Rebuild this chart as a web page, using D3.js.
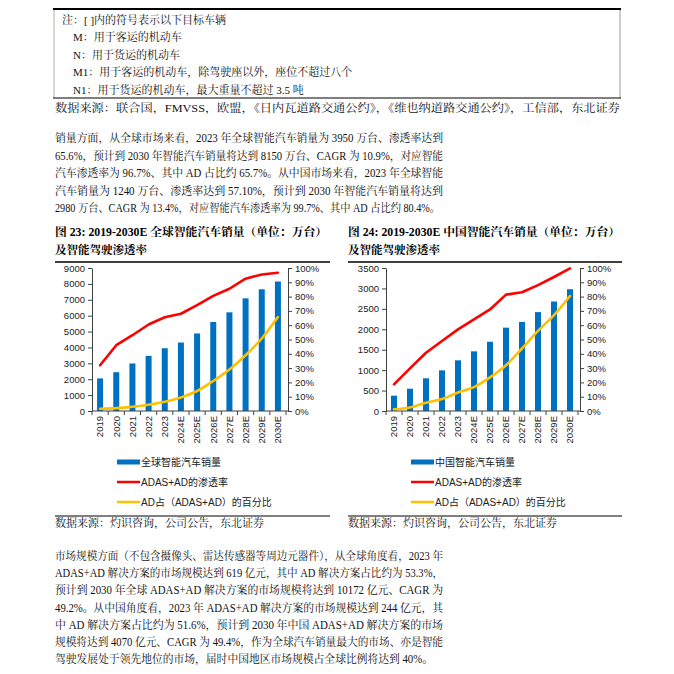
<!DOCTYPE html>
<html>
<head>
<meta charset="utf-8">
<script src="https://cdn.jsdelivr.net/npm/d3@7"></script>
<style>
  body { margin: 0; background: #fff; }
  svg { display: block; }
</style>
</head>
<body>
<div id="page"></div>
<script>
// categories and values
const years = ["2019", "2020", "2021", "2022", "2023", "2024E", "2025E", "2026E", "2027E", "2028E", "2029E", "2030E"];
const globalSales = [2050, 2440, 2990, 3470, 3950, 4310, 4880, 5600, 6210, 7090, 7660, 8150];
const globalPen = [32, 46, 53, 60.5, 65.6, 68, 74, 80.5, 85.5, 92.5, 95.5, 96.7];
const globalAd = [1.6, 2, 3, 4.4, 6.5, 9.5, 14, 21, 29, 39, 50.7, 65.7];
const chinaSales = [375, 545, 800, 995, 1240, 1460, 1695, 2040, 2180, 2420, 2680, 2980];
const chinaPen = [18.6, 29.8, 40.7, 49, 57.1, 64, 71, 81.4, 83, 88, 93.7, 99.7];
const chinaAd = [1.2, 2.5, 5.8, 8.4, 13, 16.7, 23.5, 32, 43.7, 56, 67, 80.4];

const noteRows = [
  "注：[ ]内的符号表示以下目标车辆",
  "M：用于客运的机动车",
  "N：用于货运的机动车",
  "M1：用于客运的机动车，除驾驶座以外，座位不超过八个",
  "N1：用于货运的机动车，最大重量不超过 3.5 吨"
];
const noteSource = "数据来源：联合国，FMVSS，欧盟，《日内瓦道路交通公约》，《维也纳道路交通公约》，工信部，东北证券";
const para1 = [
  "销量方面，从全球市场来看，2023 年全球智能汽车销量为 3950 万台、渗透率达到",
  "65.6%，预计到 2030 年智能汽车销量将达到 8150 万台、CAGR 为 10.9%，对应智能",
  "汽车渗透率为 96.7%、其中 AD 占比约 65.7%。从中国市场来看，2023 年全球智能",
  "汽车销量为 1240 万台、渗透率达到 57.10%，预计到 2030 年智能汽车销量将达到",
  "2980 万台、CAGR 为 13.4%，对应智能汽车渗透率为 99.7%、其中 AD 占比约 80.4%。"
];
const para2 = [
  "市场规模方面（不包含摄像头、雷达传感器等周边元器件），从全球角度看，2023 年",
  "ADAS+AD 解决方案的市场规模达到 619 亿元，其中 AD 解决方案占比约为 53.3%，",
  "预计到 2030 年全球 ADAS+AD 解决方案的市场规模将达到 10172 亿元、CAGR 为",
  "49.2%。从中国角度看，2023 年 ADAS+AD 解决方案的市场规模达到 244 亿元，其",
  "中 AD 解决方案占比约为 51.6%，预计到 2030 年中国 ADAS+AD 解决方案的市场",
  "规模将达到 4070 亿元、CAGR 为 49.4%，作为全球汽车销量最大的市场、亦是智能",
  "驾驶发展处于领先地位的市场，届时中国地区市场规模占全球比例将达到 40%。"
];
const legendPen = "ADAS+AD的渗透率";
const legendAd = "AD占（ADAS+AD）的百分比";
const chartSource = "数据来源：灼识咨询，公司公告，东北证券";

const serif = "'Liberation Serif', 'Noto Serif CJK SC', 'Noto Sans CJK SC', serif";
const sans = "'Liberation Sans', 'Noto Sans CJK SC', sans-serif";

const svg = d3.select("#page").append("svg")
    .attr("width", 674)
    .attr("height", 674);

// note box
svg.append("line").attr("x1", 53).attr("x2", 621).attr("y1", 9).attr("y2", 9)
    .attr("stroke", "#000").attr("stroke-width", 2);
svg.append("line").attr("x1", 54).attr("x2", 54).attr("y1", 10).attr("y2", 98)
    .attr("stroke", "#bbb").attr("stroke-width", 1.2);
svg.append("line").attr("x1", 620).attr("x2", 620).attr("y1", 10).attr("y2", 98)
    .attr("stroke", "#bbb").attr("stroke-width", 1.5);
svg.append("line").attr("x1", 53).attr("x2", 621).attr("y1", 98).attr("y2", 98)
    .attr("stroke", "#000").attr("stroke-width", 1.2);

svg.selectAll(".note").data(noteRows).join("text")
    .attr("x", (d, i) => i === 0 ? 62 : 73)
    .attr("y", (d, i) => 24 + i * 17.4)
    .style("font-family", serif).style("font-size", "11px").style("fill", "#111")
    .text(d => d);

svg.append("text").attr("x", 55).attr("y", 112)
    .attr("textLength", 565).attr("lengthAdjust", "spacingAndGlyphs")
    .style("font-family", serif).style("font-size", "11px").style("fill", "#111")
    .text(noteSource);

function paragraph(lines, y0, step, lastWidth) {
  lines.forEach((t, i) => {
    const last = i === lines.length - 1;
    svg.append("text")
        .attr("x", 55).attr("y", y0 + i * step)
        .attr("textLength", last ? lastWidth : 388)
        .attr("lengthAdjust", "spacingAndGlyphs")
        .style("font-family", serif).style("font-size", "11.5px").style("fill", "#111")
        .text(t);
  });
}
paragraph(para1, 142, 17.5, 385);
paragraph(para2, 560, 17.2, 378);

function drawChart(opt) {
  const g = svg.append("g");

  // caption
  g.append("text").attr("x", opt.left0).attr("y", 236)
      .attr("textLength", 272).attr("lengthAdjust", "spacingAndGlyphs")
      .style("font-family", serif).style("font-size", "11.5px").style("font-weight", "bold")
      .text(opt.title);
  g.append("text").attr("x", opt.left0).attr("y", 254)
      .style("font-family", serif).style("font-size", "11.5px").style("font-weight", "bold")
      .text("及智能驾驶渗透率");
  g.append("line").attr("x1", opt.left0).attr("x2", opt.left0 + opt.ruleW)
      .attr("y1", 262).attr("y2", 262).attr("stroke", "#000").attr("stroke-width", 1.3);

  const x = d3.scaleBand().domain(years).range([opt.x0, opt.x1]);
  const y = d3.scaleLinear().domain([0, opt.yMax]).range([411, 268]);
  const y2 = d3.scaleLinear().domain([0, 100]).range([411, 268]);

  // bars
  g.selectAll(".bar").data(opt.sales).join("rect")
      .attr("x", (d, i) => x(years[i]) + x.bandwidth() / 2 - 3)
      .attr("width", 6)
      .attr("y", d => y(d))
      .attr("height", d => 411 - y(d))
      .attr("fill", "#0070C0");

  // axes
  const axisStyle = sel => {
    sel.selectAll("path, line").attr("stroke", "#404040");
    sel.selectAll("text").style("font-family", sans).style("font-size", "9.5px").style("fill", "#222");
  };
  g.append("g").attr("transform", `translate(${opt.x0},0)`)
      .call(d3.axisLeft(y).ticks(opt.yMax / opt.yStep).tickSize(4).tickPadding(3).tickSizeOuter(0)
          .tickFormat(d3.format("d")))
      .call(axisStyle);
  g.append("g").attr("transform", `translate(${opt.x1 + 2},0)`)
      .call(d3.axisRight(y2).ticks(10).tickSize(4).tickPadding(3).tickSizeOuter(0)
          .tickFormat(d => d + "%"))
      .call(axisStyle);
  const xa = g.append("g").attr("transform", "translate(0,411)")
      .call(d3.axisBottom(x).tickSize(0).tickPadding(0));
  xa.call(axisStyle);
  xa.select(".domain").attr("d", `M${opt.x0},0H${opt.x1 + 2}`);
  xa.selectAll(".tick text")
      .attr("transform", "rotate(-90)")
      .attr("x", -5).attr("y", 0).attr("dy", "0.35em")
      .style("text-anchor", "end");
  // category boundary ticks
  g.selectAll(".xt").data(years).join("line")
      .attr("x1", d => x(d)).attr("x2", d => x(d))
      .attr("y1", 411).attr("y2", 415)
      .attr("stroke", "#404040");
  g.append("line").attr("x1", opt.x1).attr("x2", opt.x1).attr("y1", 411).attr("y2", 415)
      .attr("stroke", "#404040");

  // lines
  const cx = i => x(years[i]) + x.bandwidth() / 2;
  g.append("path").datum(opt.pen)
      .attr("d", d3.line().x((d, i) => cx(i)).y(d => y2(d)))
      .attr("fill", "none").attr("stroke", "#FF0000").attr("stroke-width", 2.6)
      .attr("stroke-linejoin", "round").attr("stroke-linecap", "round");
  g.append("path").datum(opt.ad)
      .attr("d", d3.line().x((d, i) => cx(i)).y(d => y2(d)).curve(d3.curveMonotoneX))
      .attr("fill", "none").attr("stroke", "#FFC000").attr("stroke-width", 2.6)
      .attr("stroke-linecap", "round");

  // legend
  const lx = opt.legendX;
  const items = [
    {label: opt.salesLabel, color: "#0070C0", h: 5},
    {label: legendPen, color: "#FF0000", h: 2.5},
    {label: legendAd, color: "#FFC000", h: 2.5}
  ];
  items.forEach((it, i) => {
    const yy = 462 + i * 20;
    g.append("rect").attr("x", lx).attr("y", yy - it.h / 2)
        .attr("width", 23).attr("height", it.h).attr("fill", it.color);
    g.append("text").attr("x", lx + 24).attr("y", yy).attr("dy", "0.35em")
        .style("font-family", sans).style("font-size", "10px").style("fill", "#222")
        .text(it.label);
  });

  // source
  g.append("line").attr("x1", opt.left0).attr("x2", opt.left0 + opt.ruleW)
      .attr("y1", 516).attr("y2", 516).attr("stroke", "#000").attr("stroke-width", 1);
  g.append("text").attr("x", opt.left0).attr("y", 527)
      .style("font-family", serif).style("font-size", "11px").style("fill", "#111")
      .text(chartSource);
}

drawChart({
  title: "图 23: 2019-2030E 全球智能汽车销量（单位：万台）",
  left0: 55, ruleW: 275,
  x0: 92, x1: 286, yMax: 9000, yStep: 1000,
  sales: globalSales, pen: globalPen, ad: globalAd,
  salesLabel: "全球智能汽车销量", legendX: 117
});
drawChart({
  title: "图 24: 2019-2030E 中国智能汽车销量（单位：万台）",
  left0: 348, ruleW: 274,
  x0: 386, x1: 578, yMax: 3500, yStep: 500,
  sales: chinaSales, pen: chinaPen, ad: chinaAd,
  salesLabel: "中国智能汽车销量", legendX: 411
});
</script>
</body>
</html>
